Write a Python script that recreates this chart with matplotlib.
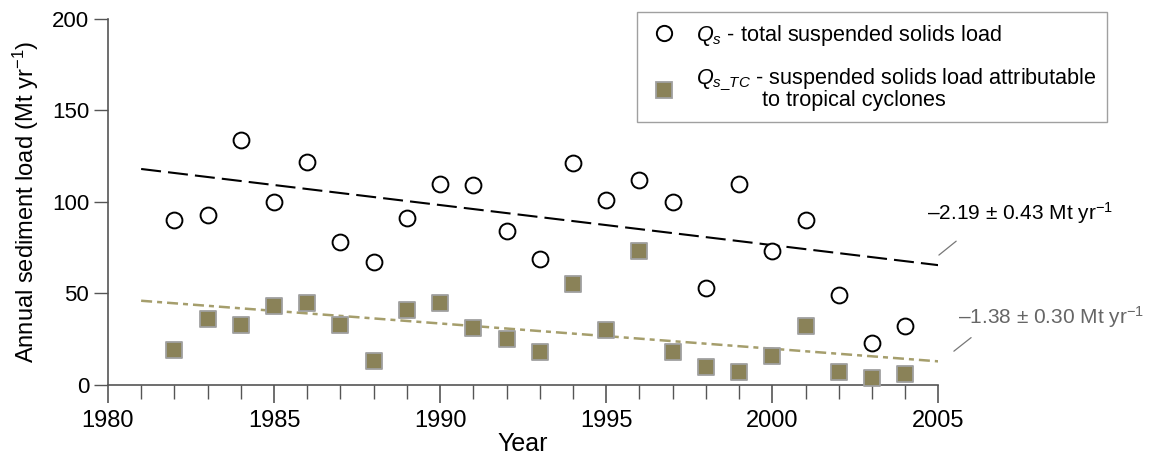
import numpy as np
import matplotlib.pyplot as plt
from matplotlib.lines import Line2D

plt.rcParams['font.family'] = ['Liberation Sans', 'DejaVu Sans']
plt.rcParams['mathtext.fontset'] = 'custom'
plt.rcParams['mathtext.rm'] = 'Liberation Sans'
plt.rcParams['mathtext.it'] = 'Liberation Sans:italic'

# Data
years = np.arange(1982, 2005)
qs = [90, 93, 134, 100, 122, 78, 67, 91, 110, 109, 84, 69, 121,
      101, 112, 100, 53, 110, 73, 90, 49, 23, 32]
qs_tc = [19, 36, 33, 43, 45, 33, 13, 41, 45, 31, 25, 18, 55,
         30, 73, 18, 10, 7, 16, 32, 7, 4, 6]

# Trend lines (value at 1981 and slope per year)
trend_years = np.array([1981, 2005])
qs_start, qs_slope = 118.0, -2.19
tc_start, tc_slope = 46.0, -1.38

olive = '#8a8258'
olive_line = '#a59e6c'

fig = plt.figure(figsize=(11.73, 4.61), dpi=100)
ax = fig.add_axes([0.092, 0.165, 0.708, 0.794])

ax.plot(trend_years, qs_start + qs_slope * (trend_years - 1981),
        color='black', lw=1.5, dashes=(9.6, 3.4), zorder=1)
ax.plot(trend_years, tc_start + tc_slope * (trend_years - 1981),
        color=olive_line, lw=1.8, dashes=(4.4, 2, 2, 2), zorder=1)

ax.scatter(years, qs, s=130, facecolors='white', edgecolors='black',
           linewidths=1.4, zorder=3, clip_on=False)
ax.scatter(years, qs_tc, s=140, marker='s', facecolors=olive,
           edgecolors='#a0a0a0', linewidths=1.3, zorder=3, clip_on=False)

ax.set_xlim(1980, 2005)
ax.set_ylim(0, 200)
ax.set_xticks(np.arange(1980, 2006, 5))
ax.set_xticks(np.arange(1980, 2006, 1), minor=True)
ax.set_yticks(np.arange(0, 201, 50))
ax.tick_params(axis='both', which='both', direction='out', color='#555555')
ax.tick_params(axis='x', which='major', length=13, width=1.2, labelsize=17,
               pad=5)
ax.tick_params(axis='x', which='minor', length=10, width=1)
ax.tick_params(axis='y', length=10, width=1, labelsize=16)
for side in ['top', 'right']:
    ax.spines[side].set_visible(False)
for side in ['left', 'bottom']:
    ax.spines[side].set_color('#555555')
    ax.spines[side].set_linewidth(1.2)

ax.set_xlabel('Year', fontsize=18, labelpad=0)
ax.set_ylabel('Annual sediment load (Mt yr$^{-1}$)', fontsize=17, labelpad=8)

# slope annotations with leader lines
ax.annotate('', xy=(2004.95, 70), xytext=(2005.6, 79.5),
            arrowprops=dict(arrowstyle='-', color='#777777', lw=0.9),
            annotation_clip=False)
ax.text(2004.65, 94, '\u20132.19 \u00b1 0.43 Mt yr$^{-1}$', fontsize=15,
        ha='left', va='center', color='black', clip_on=False)
ax.annotate('', xy=(2005.4, 17.5), xytext=(2006.05, 26.8),
            arrowprops=dict(arrowstyle='-', color='#777777', lw=0.9),
            annotation_clip=False)
ax.text(2005.6, 37, '\u20131.38 \u00b1 0.30 Mt yr$^{-1}$', fontsize=15,
        ha='left', va='center', color='#666666', clip_on=False)

handles = [
    Line2D([], [], marker='o', ls='none', ms=11, mfc='white', mec='black',
           mew=1.4),
    Line2D([], [], marker='s', ls='none', ms=11, mfc=olive, mec='#a0a0a0',
           mew=1.3),
]
labels = [
    r'$Q_s$ - total suspended solids load',
    r'$Q_{s\_TC}$ - suspended solids load attributable' + '\n'
    + '           to tropical cyclones',
]
leg = fig.legend(handles, labels, loc='upper left',
                 bbox_to_anchor=(637 / 1173, 1 - 12 / 461), fontsize=15.6,
                 frameon=True, fancybox=False, edgecolor='#888888',
                 borderaxespad=0, borderpad=0.5, handletextpad=0.7,
                 labelspacing=0.9, handlelength=1.5)
leg.get_frame().set_linewidth(1.0)
for t in leg.get_texts():
    t.set_linespacing(0.8)

fig.savefig('out.png', dpi=100)
